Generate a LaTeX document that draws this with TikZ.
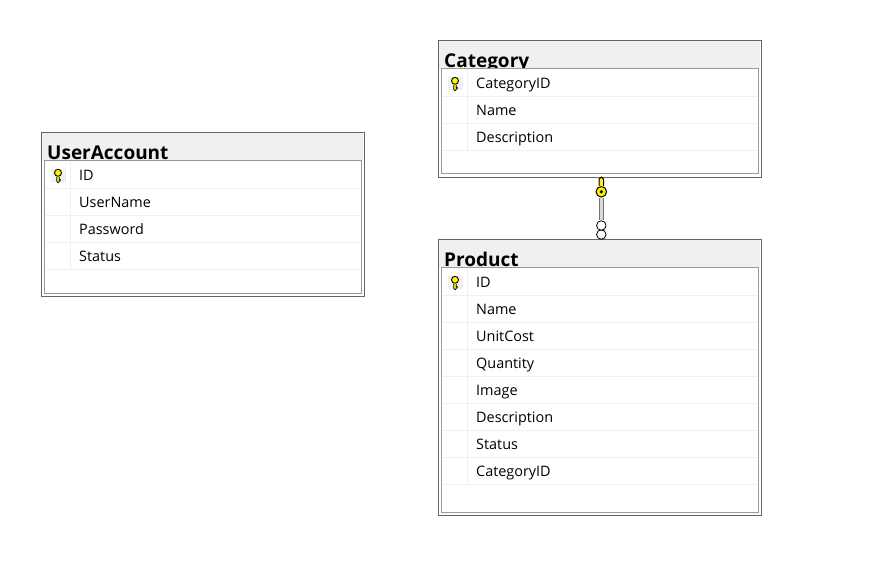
\documentclass[tikz,border=0pt]{standalone}
\usepackage{fontspec}
\setmainfont{Open Sans}
\definecolor{barfill}{HTML}{F0F0F0}
\definecolor{rowline}{HTML}{EFEFEF}
\definecolor{keygold}{HTML}{FFF200}
\begin{document}
\begin{tikzpicture}[x=1pt,y=-1pt,
table/.style={draw=black!60, fill=white, line width=1.2pt, anchor=north west, inner sep=0pt, minimum width=323pt},
bar/.style={fill=barfill, anchor=north west, inner sep=0pt, minimum width=321pt, minimum height=28pt},
panel/.style={draw=black!40, fill=white, line width=1pt, anchor=north west, inner sep=0pt, minimum width=317pt},
title/.style={anchor=base west, inner sep=0pt, font=\fontsize{19}{19}\bfseries},
field/.style={anchor=base west, inner sep=0pt, font=\fontsize{14.4}{14.4}\selectfont, text=black},
keycell/.style={fill=barfill, minimum width=15pt, minimum height=13pt, inner sep=0pt},
keyhead/.style={circle, draw=black, fill=keygold, line width=0.9pt, minimum size=7pt, inner sep=0pt},
bighead/.style={circle, draw=black, fill=keygold, line width=1pt, minimum size=10.5pt, inner sep=0pt},
ring/.style={circle, draw=black, fill=white, line width=0.8pt, minimum size=9.5pt, inner sep=0pt},
sep/.style={rowline, line width=1pt}
]
\useasboundingbox (0,0) rectangle (872,562);
%Category
\node[table, minimum height=137pt] (cat) at (437.6,39.6) {};
\node[bar] (catbar) at (438.6,40.6) {};
\node[title] (cattitle) at (444,67) {Category};
\node[panel, minimum height=105pt] (catpanel) at (440.8,67.8) {};
\node[keycell] (catcell) at (455,83) {};
\node[field] (cat1) at (476,88)  {CategoryID};
\node[field] (cat2) at (476,115) {Name};
\node[field] (cat3) at (476,142) {Description};
\foreach \y in {96,123,150} \draw[sep] (443,\y) -- (757,\y);
\draw[sep] (467,69) -- (467,150);
%UserAccount
\node[table, minimum height=164pt] (user) at (40.6,131.6) {};
\node[bar] (userbar) at (41.6,132.6) {};
\node[title] (usertitle) at (47,159) {UserAccount};
\node[panel, minimum height=133pt] (userpanel) at (43.8,159.8) {};
\node[keycell] (usercell) at (58,175) {};
\node[field] (user1) at (79,180) {ID};
\node[field] (user2) at (79,207) {UserName};
\node[field] (user3) at (79,234) {Password};
\node[field] (user4) at (79,261) {Status};
\foreach \y in {188,215,242,269} \draw[sep] (46,\y) -- (360,\y);
\draw[sep] (70,161) -- (70,269);
%Product
\node[table, minimum height=276pt] (prod) at (437.6,238.6) {};
\node[bar] (prodbar) at (438.6,239.6) {};
\node[title] (prodtitle) at (444,266) {Product};
\node[panel, minimum height=245pt] (prodpanel) at (440.8,266.8) {};
\node[keycell] (prodcell) at (455,282) {};
\node[field] (prod1) at (476,287) {ID};
\node[field] (prod2) at (476,314) {Name};
\node[field] (prod3) at (476,341) {UnitCost};
\node[field] (prod4) at (476,368) {Quantity};
\node[field] (prod5) at (476,395) {Image};
\node[field] (prod6) at (476,422) {Description};
\node[field] (prod7) at (476,449) {Status};
\node[field] (prod8) at (476,476) {CategoryID};
\foreach \y in {295,322,349,376,403,430,457,484} \draw[sep] (443,\y) -- (757,\y);
\draw[sep] (467,268) -- (467,484);
%Keys
\foreach \c in {cat,user,prod}{
  \node[keyhead] (\c key) at ([yshift=2.2pt]\c cell.center) {};
  \draw[black, fill=keygold, line width=0.7pt] ([xshift=-1.3pt]\c key.south) -- ++(0,4.5) -- ++(1.3,1.5) -- ++(1.3,-1) -- ++(0,-1) -- ++(1,0) -- ++(0,-1.2) -- ++(-1,0) -- ([xshift=1.3pt]\c key.south);
}
%Relationship
\node[ring] (ring1) at (601.3,234.5) {};
\node[ring] (ring2) at (601.3,225.5) {};
\node[bighead] (relkey) at (601.3,191.8) {};
\draw[black, fill=keygold, line width=1pt] ([xshift=-2.2pt]relkey.north) -- ++(0,-7) -- ++(2.2,-2) -- ++(2.2,2) -- ++(0,7);
\fill[black] (relkey.center) circle (1.8pt);
\draw[black!55, line width=5pt] (relkey) -- (ring2);
\draw[white!85!black, line width=2.4pt] (relkey) -- (ring2);
\end{tikzpicture}
\end{document}
